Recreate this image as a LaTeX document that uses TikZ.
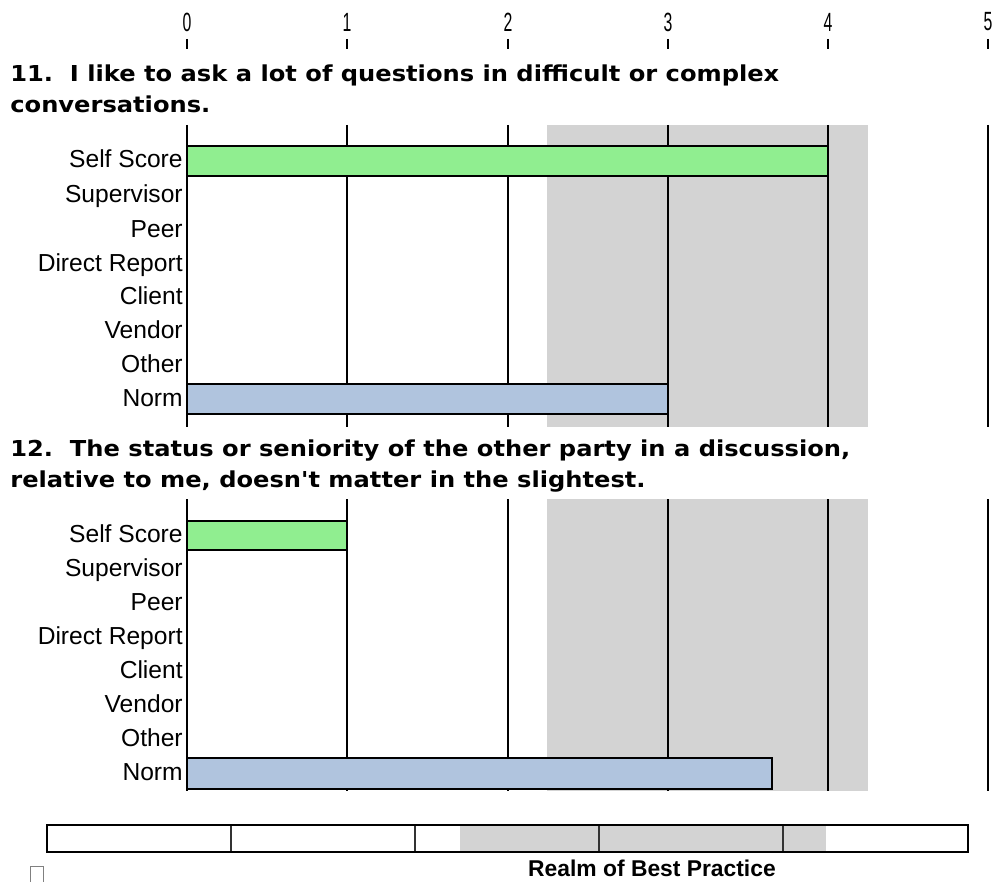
\documentclass[tikz,border=0pt]{standalone}
\usepackage{fontspec}
\setmainfont{Liberation Sans}
\newfontfamily\titlefont[FakeStretch=1.1]{DejaVu Sans Bold}
\newfontfamily\tickfont[FakeStretch=0.6]{Liberation Sans}
\definecolor{SelfGreen}{HTML}{90EE90}
\definecolor{NormBlue}{HTML}{B0C4DE}
\definecolor{RealmGray}{HTML}{D3D3D3}
\usetikzlibrary{positioning}

\begin{document}
\begin{tikzpicture}[x=0.02cm, y=-0.02cm,
      title/.style={anchor=west, inner sep=0pt, font=\titlefont\fontsize{12.5}{15}\selectfont},
      rowlabel/.style={anchor=east, inner sep=0pt, text height=0.72em, text depth=0em,
                       font=\fontsize{14}{16}\selectfont},
      ticklabel/.style={inner sep=0pt, font=\tickfont\fontsize{15}{17}\selectfont},
      grid/.style={black, line width=1.1pt},
      bar/.style={draw=black, line width=0.9pt}]
      \useasboundingbox (0,0) rectangle (998,882);
      % Scale on top
      \node[ticklabel] (t0) at (187,22) {0};
      \node[ticklabel] (t1) at (347,22) {1};
      \node[ticklabel] (t2) at (508,22) {2};
      \node[ticklabel] (t3) at (668,22) {3};
      \node[ticklabel] (t4) at (828,22) {4};
      \node[ticklabel] (t5) at (988,22) {5};
      \foreach \x in {187,347,508,668,828,988}
         \draw[line width=0.8pt] (\x,39) -- (\x,49);
      % Question 11
      \node[title] (q11a) at (10,75) {11.\ \ I like to ask a lot of questions in difficult or complex};
      \node[title] (q11b) at (10,104) {conversations.};
      \fill[RealmGray] (547,125) rectangle (868,427);
      \foreach \x in {187,347,508,668,828,988}
         \draw[grid] (\x,125) -- (\x,427);
      \draw[bar, fill=SelfGreen] (187,146) rectangle (828,176);
      \draw[bar, fill=NormBlue] (187,384) rectangle (668,414);
      \node[rowlabel] (a1) at (183,161) {Self Score};
      \node[rowlabel] (a2) at (183,196) {Supervisor};
      \node[rowlabel] (a3) at (183,231) {Peer};
      \node[rowlabel] (a4) at (183,265) {Direct Report};
      \node[rowlabel] (a5) at (183,298) {Client};
      \node[rowlabel] (a6) at (183,332) {Vendor};
      \node[rowlabel] (a7) at (183,366) {Other};
      \node[rowlabel] (a8) at (183,400) {Norm};
      % Question 12
      \node[title] (q12a) at (10,451) {12.\ \ The status or seniority of the other party in a discussion,};
      \node[title] (q12b) at (10,482) {relative to me, doesn't matter in the slightest.};
      \fill[RealmGray] (547,499) rectangle (868,791);
      \foreach \x in {187,347,508,668,828,988}
         \draw[grid] (\x,499) -- (\x,791);
      \draw[bar, fill=SelfGreen] (187,521) rectangle (347,550);
      \draw[bar, fill=NormBlue] (187,758) rectangle (772,789);
      \node[rowlabel] (b1) at (183,536) {Self Score};
      \node[rowlabel] (b2) at (183,570) {Supervisor};
      \node[rowlabel] (b3) at (183,604) {Peer};
      \node[rowlabel] (b4) at (183,638) {Direct Report};
      \node[rowlabel] (b5) at (183,672) {Client};
      \node[rowlabel] (b6) at (183,706) {Vendor};
      \node[rowlabel] (b7) at (183,740) {Other};
      \node[rowlabel] (b8) at (183,774) {Norm};
      % Realm of best practice bar
      \fill[RealmGray] (460,825) rectangle (826,852);
      \foreach \x in {231,415,599,783}
         \draw[line width=0.9pt, black!80] (\x,825) -- (\x,852);
      \draw[line width=1.2pt] (47,825) rectangle (968,852);
      \node[font=\bfseries\fontsize{13}{15}\selectfont, inner sep=0pt] (realm) at (652,868) {Realm of Best Practice};
      \node[draw=gray, line width=0.5pt, minimum width=13*0.02cm, minimum height=16*0.02cm, inner sep=0pt] (glyph) at (36.5,874) {};
   \end{tikzpicture}
\end{document}
